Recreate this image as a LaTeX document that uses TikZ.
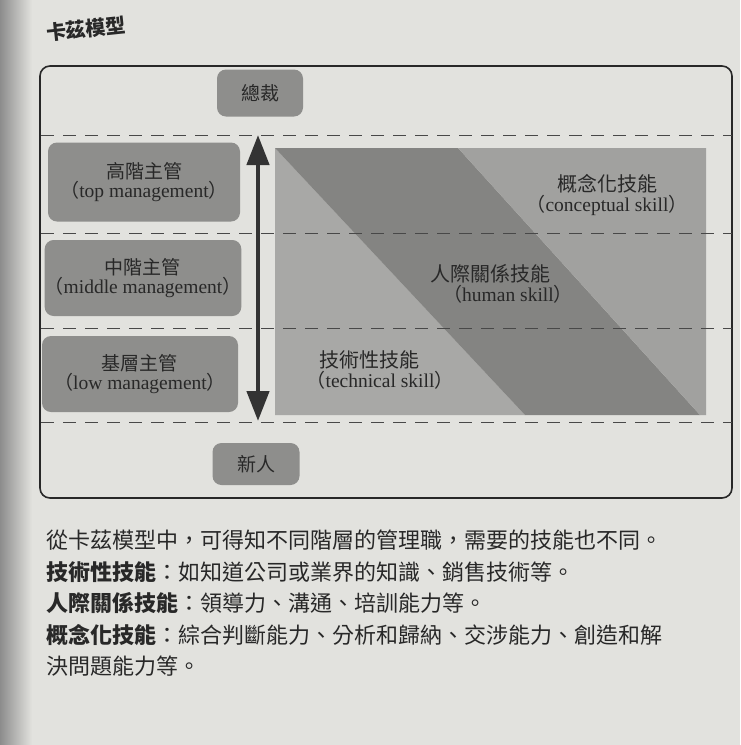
\documentclass[tikz,border=0pt]{standalone}
\usepackage{fontspec}
\setmainfont{Liberation Serif}
\newfontfamily\cjk{Noto Sans CJK TC}
\usetikzlibrary{arrows.meta}
\definecolor{pagebg}{RGB}{226,226,222}
\definecolor{boxgray}{RGB}{142,142,140}
\definecolor{bandgray}{RGB}{132,132,130}
\definecolor{lightgray}{RGB}{168,168,166}
\definecolor{ink}{RGB}{40,40,40}
\newcommand{\cjkbig}{\cjk\fontsize{19}{24}\selectfont}
\newcommand{\cjkmid}{\cjk\fontsize{20}{24}\selectfont}
\newcommand{\paren}[1]{{\cjk\fontsize{19}{22}\selectfont （}{\fontsize{19.5}{22}\selectfont #1}{\cjk\fontsize{19}{22}\selectfont ）}}
\begin{document}
\begin{tikzpicture}[x=1pt,y=-1pt,
  lvl/.style={rounded corners=9pt, fill=boxgray, align=center, text=ink, inner sep=0pt},
  skilltext/.style={align=center, text=ink, inner sep=0pt},
  level line/.style={dash pattern=on 13pt off 9pt, line width=0.9pt, draw=ink!85},
  updown/.style={line width=4.5pt, draw=ink!95, {Triangle[length=30pt,width=22pt]}-{Triangle[length=30pt,width=22pt]}}
]
\useasboundingbox (0,0) rectangle (740,745);
\fill[pagebg] (0,0) rectangle (740,745);
\shade[left color=black!45, right color=pagebg] (0,0) rectangle (32,745);

% title
\node[rotate=6, text=ink, inner sep=0pt, font=\cjk\bfseries\fontsize{20}{24}\selectfont] (title) at (86,29) {卡茲模型};

% frame
\draw[line width=1.6pt, draw=ink, rounded corners=10pt] (40,66) rectangle (732,498);

% skill rectangle
\fill[lightgray] (275,148) -- (525,415) -- (275,415) -- cycle;
\fill[bandgray] (275,148) -- (458,148) -- (700,415) -- (525,415) -- cycle;
\fill[lightgray!96!black] (458,148) -- (706,148) -- (706,415) -- (700,415) -- cycle;

% dashed level lines
\foreach \yy in {135,233,328,422} \draw[level line] (41,\yy) -- (732,\yy);

% level boxes
\node[lvl, minimum width=86pt, minimum height=47pt] (ceo) at (260,93) {\cjkbig 總裁};
\node[lvl, minimum width=192pt, minimum height=79pt] (hi) at (144,182)
  {{\cjkbig 高階主管}\\[0pt]\paren{top management}};
\node[lvl, minimum width=195pt, minimum height=76pt] (mid) at (143,278)
  {{\cjkbig 中階主管}\\[0pt]\paren{middle management}};
\node[lvl, minimum width=196pt, minimum height=76pt] (low) at (140,374)
  {{\cjkbig 基層主管}\\[0pt]\paren{low management}};
\node[lvl, minimum width=87pt, minimum height=42pt] (new) at (256,464) {\cjkbig 新人};

% arrow
\coordinate (atop) at (258,135);
\coordinate (abot) at (258,421);
\draw[updown] (atop) -- (abot);

% skill labels
\node[skilltext] (concept) at (607,195)
  {{\cjkmid 概念化技能}\\[1pt]\paren{conceptual skill}};
\node[skilltext] (human) at (490,284)
  {{\cjkmid 人際關係技能}\\[1pt]\hspace*{36pt}\paren{human skill}};
\node[skilltext] (tech) at (380,370)
  {\hspace*{-22pt}{\cjkmid 技術性技能}\\[1pt]\paren{technical skill}};

% caption text
\node[anchor=north west, align=left, text=ink, inner sep=0pt,
      font=\cjk\fontsize{22}{31.5}\selectfont] (caption) at (46,530)
  {從卡茲模型中，可得知不同階層的管理職，需要的技能也不同。\\
   {\bfseries 技術性技能}：如知道公司或業界的知識、銷售技術等。\\
   {\bfseries 人際關係技能}：領導力、溝通、培訓能力等。\\
   {\bfseries 概念化技能}：綜合判斷能力、分析和歸納、交涉能力、創造和解\\
   決問題能力等。};
\end{tikzpicture}
\end{document}
